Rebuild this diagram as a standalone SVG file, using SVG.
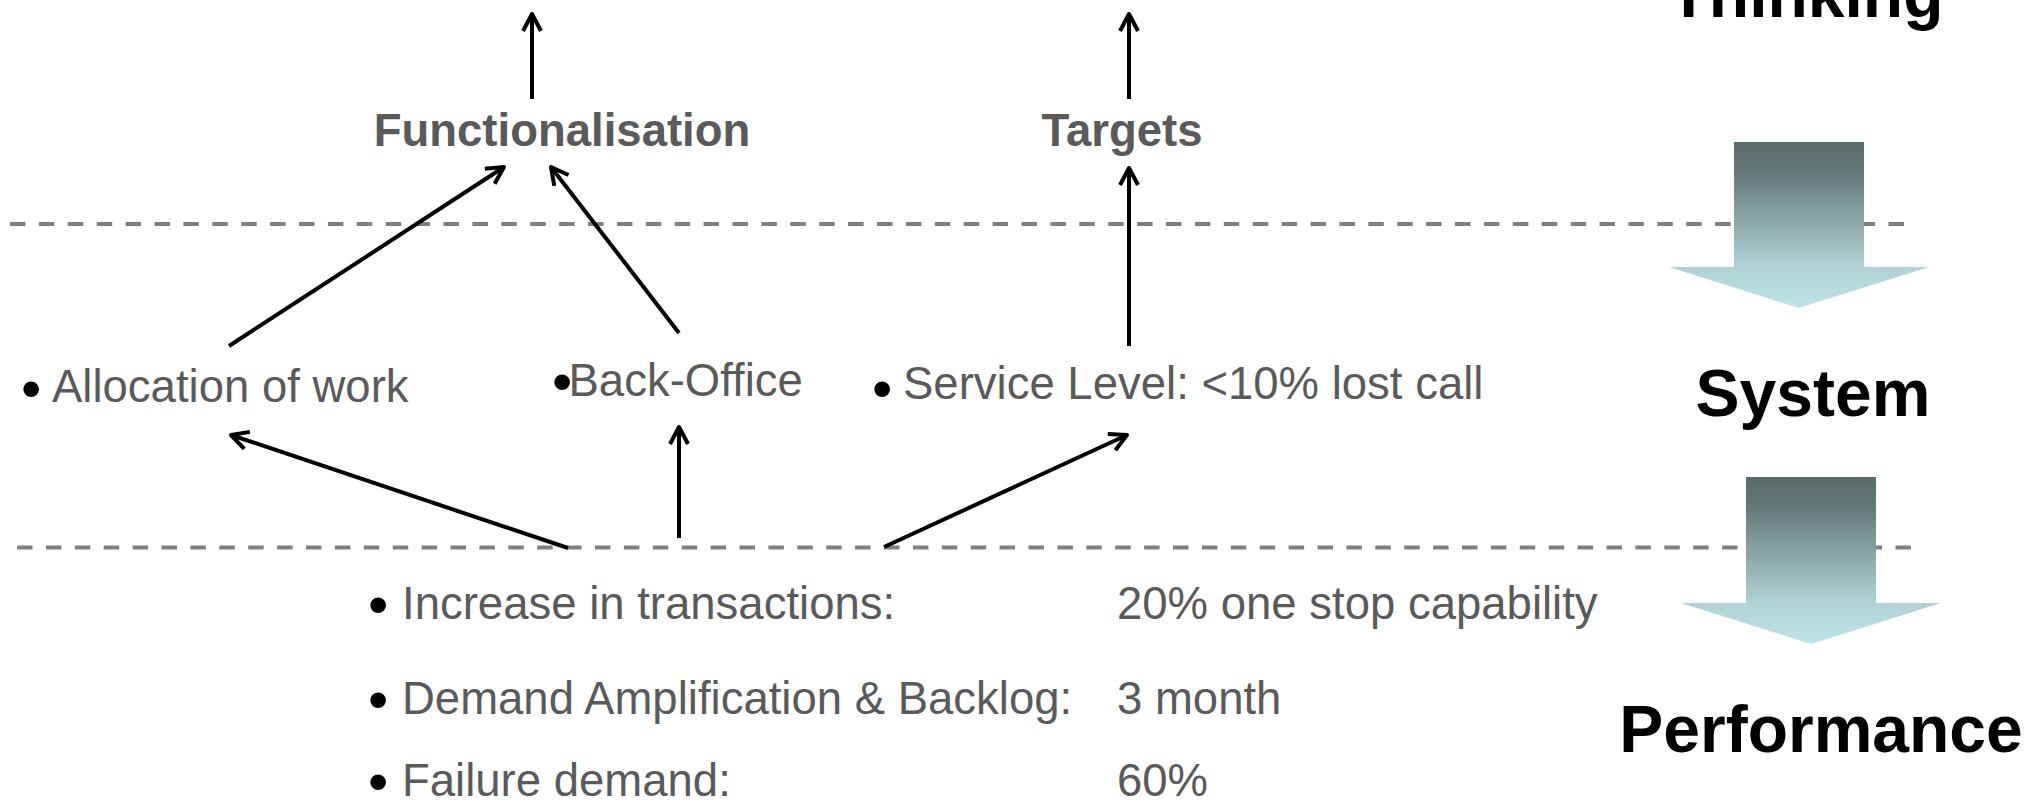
<svg xmlns="http://www.w3.org/2000/svg" width="2024" height="802" viewBox="0 0 2024 802">
  <defs>
    <style>
      .lbl { font-family: "Liberation Sans", Arial, sans-serif; font-size: 45.5px; fill: #5a5a5a; }
      .head { font-family: "Liberation Sans", Arial, sans-serif; font-size: 45.5px; font-weight: bold; fill: #5a5a5a; text-anchor: middle; }
      .stage { font-family: "Liberation Sans", Arial, sans-serif; font-size: 66px; font-weight: bold; fill: #000; text-anchor: middle; }
      .bul { font-size: 58px; fill: #000; }
      .divider { stroke: #808080; stroke-width: 4; stroke-dasharray: 15.5 13.4; fill: none; }
      .link { stroke: #000; stroke-width: 4; fill: none; marker-end: url(#open); }
      .flow { fill: url(#flowGrad); }
    </style>
    <marker id="open" markerUnits="userSpaceOnUse" markerWidth="40" markerHeight="40" viewBox="-25 -20 40 40" refX="0" refY="0" orient="auto" overflow="visible">
      <path d="M-17,-9 L0,0 L-17,9" fill="none" stroke="#000" stroke-width="4" stroke-linejoin="round" stroke-linecap="butt"/>
    </marker>
    <linearGradient id="flowGrad" x1="0" y1="0" x2="0" y2="1">
      <stop offset="0" stop-color="#5a6b6b"/>
      <stop offset="0.2" stop-color="#677b7b"/>
      <stop offset="0.45" stop-color="#8aa4a5"/>
      <stop offset="0.75" stop-color="#b0d2d4"/>
      <stop offset="1" stop-color="#bfe3e6"/>
    </linearGradient>
  </defs>

  <rect width="2024" height="802" fill="#ffffff"/>

  <!-- layer dividers -->
  <g id="dividers">
    <line class="divider" x1="10" y1="224" x2="1908" y2="224"/>
    <line class="divider" x1="17" y1="547.5" x2="1914" y2="547.5"/>
  </g>

  <!-- stage labels and flow arrows on the right -->
  <g id="stage-thinking">
    <text class="stage" x="1806" y="17">Thinking</text>
  </g>
  <g id="flow-1">
    <polygon class="flow" points="1734,142 1864,142 1864,267 1929,267 1799,308 1669,267 1734,267"/>
  </g>
  <g id="stage-system">
    <text class="stage" x="1813" y="416">System</text>
  </g>
  <g id="flow-2">
    <polygon class="flow" points="1746,477 1876,477 1876,603 1941,603 1811,644 1681,603 1746,603"/>
  </g>
  <g id="stage-performance">
    <text class="stage" x="1821" y="752">Performance</text>
  </g>

  <!-- thinking layer -->
  <g id="node-functionalisation">
    <text class="head" x="562" y="146">Functionalisation</text>
  </g>
  <g id="node-targets">
    <text class="head" x="1122" y="146">Targets</text>
  </g>

  <!-- system layer -->
  <g id="node-allocation">
    <text class="lbl"><tspan class="bul" x="21" y="408">•</tspan><tspan x="52" y="402">Allocation of work</tspan></text>
  </g>
  <g id="node-backoffice">
    <text class="lbl"><tspan class="bul" x="552" y="401">•</tspan><tspan x="568.5" y="396">Back-Office</tspan></text>
  </g>
  <g id="node-service-level">
    <text class="lbl"><tspan class="bul" x="872" y="408">•</tspan><tspan x="903" y="399">Service Level: &lt;10% lost call</tspan></text>
  </g>

  <!-- performance layer -->
  <g id="node-transactions">
    <text class="lbl"><tspan class="bul" x="368" y="624">•</tspan><tspan x="402" y="619">Increase in transactions:</tspan><tspan x="1117" y="619">20% one stop capability</tspan></text>
  </g>
  <g id="node-demand">
    <text class="lbl"><tspan class="bul" x="368" y="719">•</tspan><tspan x="402" y="714">Demand Amplification &amp; Backlog:</tspan><tspan x="1117" y="714">3 month</tspan></text>
  </g>
  <g id="node-failure">
    <text class="lbl"><tspan class="bul" x="368" y="801">•</tspan><tspan x="402" y="796">Failure demand:</tspan><tspan x="1117" y="796">60%</tspan></text>
  </g>

  <!-- connectors -->
  <g id="connectors">
    <line class="link" x1="532" y1="99" x2="532" y2="14"/>
    <line class="link" x1="1129" y1="99" x2="1129" y2="14"/>
    <line class="link" x1="229" y1="346" x2="504" y2="167"/>
    <line class="link" x1="679" y1="333" x2="551" y2="167"/>
    <line class="link" x1="1129" y1="346" x2="1129" y2="168"/>
    <line class="link" x1="568" y1="548" x2="231" y2="435"/>
    <line class="link" x1="679" y1="538" x2="679" y2="427"/>
    <line class="link" x1="884" y1="547" x2="1127" y2="435"/>
  </g>
</svg>
